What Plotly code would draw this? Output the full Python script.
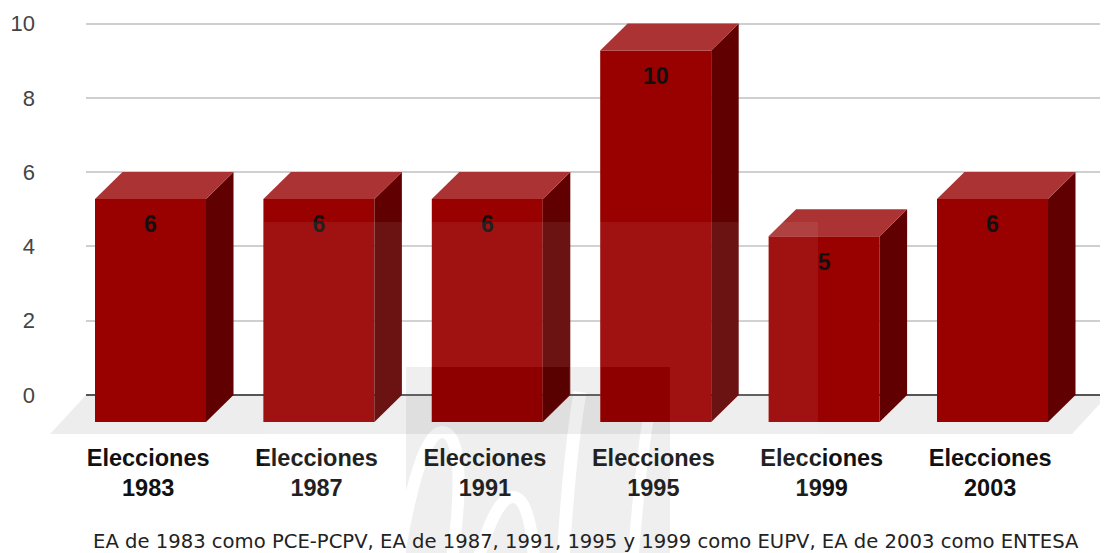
import plotly.graph_objects as go

categories = ["Elecciones<br>1983", "Elecciones<br>1987", "Elecciones<br>1991",
              "Elecciones<br>1995", "Elecciones<br>1999", "Elecciones<br>2003"]
values = [6, 6, 6, 10, 5, 6]
labels = ["6", "6", "6", "10", "5", "6"]
y_ticks = [0, 2, 4, 6, 8, 10]
note = "EA de 1983 como PCE-PCPV, EA de 1987, 1991, 1995 y 1999 como EUPV, EA de 2003 como ENTESA"

PAGE_W, PAGE_H, BODY = 1108, 553, 8
L, T, B = 86, 20, 434
XPX, YPX = 168.4, 37.15
DX_PX, DY_PX = 27.5, 27.0
BAR_PX = 111
dx, dy = DX_PX / XPX, DY_PX / YPX
bw = BAR_PX / XPX
x0 = -(150.5 - L) / XPX
x1 = x0 + (PAGE_W - L) / XPX
y0 = -(B - 395) / YPX
y1 = 10 + (23.5 - T) / YPX

idx = list(range(len(values)))
fig = go.Figure()
fig.add_trace(go.Bar(x=idx, y=values, base=[-dy] * len(values), width=bw,
                     marker=dict(color="#990000", line=dict(width=0)), hoverinfo="skip"))
for i, v in zip(idx, values):
    r = i + bw / 2
    l = i - bw / 2
    fig.add_trace(go.Scatter(x=[r, r + dx, r + dx, r, r], y=[-dy, 0, v, v - dy, -dy], mode="lines",
                             fill="toself", fillcolor="#600000", line=dict(width=0), hoverinfo="skip"))
    fig.add_trace(go.Scatter(x=[l, l + dx, r + dx, r, l], y=[v - dy, v, v, v - dy, v - dy], mode="lines",
                             fill="toself", fillcolor="#AB3333", line=dict(width=0), hoverinfo="skip"))
fig.add_trace(go.Scatter(x=idx, y=[v - dy - 27.5 / YPX for v in values], mode="text",
                         text=[f"<b>{t}</b>" for t in labels], textposition="middle center",
                         textfont=dict(family="Liberation Sans", size=23, color="#111"), hoverinfo="skip"))


def rel_x(p):
    return (p - L) / (PAGE_W - L)


def rel_y(p):
    return (B - p) / (B - T)


def poly(points):
    return "M" + " L".join(f"{rel_x(a):.4f},{rel_y(b):.4f}" for a, b in points) + " Z"


def curve(start, *segments):
    s = f"M{rel_x(start[0]):.4f},{rel_y(start[1]):.4f}"
    for seg in segments:
        s += " C" + " ".join(f"{rel_x(a):.4f},{rel_y(b):.4f}" for a, b in seg)
    return s


hole_a = [(431, 367), (431, 422), (542, 422), (569, 395), (569, 367)]
hole_b = [(601, 367), (601, 422), (670, 422), (670, 367)]
band = [(264, 222), (818, 222), (818, 553), (264, 553)]


def stroke(path, w=12):
    return dict(type="path", xref="paper", yref="paper", layer="below", path=path,
                fillcolor="rgba(0,0,0,0)", line=dict(color="white", width=w))


shapes = [
    dict(type="rect", xref="paper", yref="paper", layer="below",
         x0=rel_x(406), x1=rel_x(670), y0=rel_y(553), y1=rel_y(367),
         fillcolor="#EEEEEE", line=dict(width=0)),
    stroke(curve((398, 560), [(410, 490), (425, 432), (442, 432)], [(462, 432), (462, 490), (452, 560)])),
    stroke(curve((478, 560), [(488, 525), (500, 497), (513, 497)], [(526, 497), (532, 525), (534, 560)])),
    stroke(curve((563, 560), [(566, 510), (572, 440), (580, 392)]), 13),
    stroke(curve((633, 560), [(637, 510), (643, 450), (648, 420)]), 11),
    dict(type="path", xref="paper", yref="paper", layer="below",
         path=poly([(86, 395), (1108, 395), (1072, 434), (50, 434)]),
         fillcolor="rgba(0,0,0,0.07)", line=dict(width=0)),
    dict(type="path", xref="paper", yref="paper", layer="above",
         path=poly(hole_a), fillcolor="rgba(0,0,0,0.065)", line=dict(width=0)),
    dict(type="path", xref="paper", yref="paper", layer="above",
         path=poly(hole_b), fillcolor="rgba(0,0,0,0.065)", line=dict(width=0)),
    dict(type="path", xref="paper", yref="paper", layer="above",
         path=poly(band) + " " + poly(hole_a) + " " + poly(hole_b),
         fillcolor="rgba(255,255,255,0.07)", line=dict(width=0)),
]
fig.update_layout(
    width=PAGE_W - BODY, height=PAGE_H - BODY,
    margin=dict(l=L - BODY, r=0, t=T - BODY, b=PAGE_H - B, pad=0, autoexpand=False),
    paper_bgcolor="rgba(0,0,0,0)", plot_bgcolor="rgba(0,0,0,0)", showlegend=False, barmode="overlay",
    shapes=shapes,
    font=dict(family="Liberation Sans", color="#222"),
    xaxis=dict(range=[x0, x1], tickmode="array", tickvals=[i - 0.014 for i in idx],
               ticktext=["<b>" + c.replace("<br>", "</b><br><b>") + "</b>" for c in categories],
               showgrid=False, zeroline=False, showline=False, ticks="", ticklabelstandoff=7, fixedrange=True,
               tickfont=dict(family="Liberation Sans", size=23.5, color="#111")),
    yaxis=dict(range=[y0, y1], tickmode="array", tickvals=y_ticks, ticktext=[str(t) for t in y_ticks],
               showgrid=True, gridcolor="#CFCFCF", gridwidth=1.5, zeroline=True, zerolinecolor="#555555",
               zerolinewidth=1.5, showline=False, ticks="", ticklabelstandoff=50, fixedrange=True,
               tickfont=dict(family="Liberation Sans", size=22, color="#444")),
    annotations=[dict(text=note, xref="paper", yref="paper", x=rel_x(586), y=rel_y(541), showarrow=False,
                      xanchor="center", yanchor="middle",
                      font=dict(family="DejaVu Sans", size=19.6, color="#222"))],
)
fig.write_html("out.html")
